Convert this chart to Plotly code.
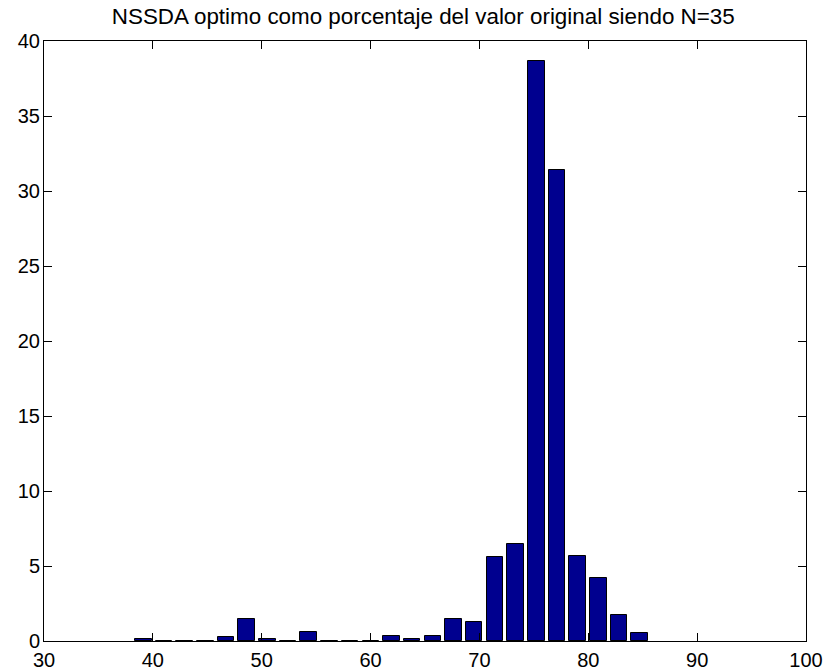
import plotly.graph_objects as go

# Histogram bin centres (percentage of original value) and bar heights
bin_centers = [39.12, 41.02, 42.92, 44.82, 46.72, 48.62, 50.52, 52.42, 54.32,
               56.22, 58.12, 60.02, 61.92, 63.82, 65.72, 67.62, 69.52, 71.42,
               73.32, 75.22, 77.12, 79.02, 80.92, 82.82, 84.72]
frequencies = [0.15, 0.0, 0.0, 0.0, 0.25, 1.5, 0.15, 0.0, 0.6,
               0.0, 0.0, 0.0, 0.35, 0.13, 0.35, 1.5, 1.25, 5.6,
               6.5, 38.7, 31.4, 5.7, 4.2, 1.75, 0.55]

x_ticks = [30, 40, 50, 60, 70, 80, 90, 100]
y_ticks = [0, 5, 10, 15, 20, 25, 30, 35, 40]

title_text = "NSSDA optimo como porcentaje del valor original siendo N=35"

FONT = "Liberation Sans, Arial, sans-serif"

fig = go.Figure()
fig.add_trace(go.Bar(
    x=bin_centers,
    y=frequencies,
    width=1.52,
    marker=dict(color="#00008F", line=dict(color="#000000", width=1)),
    showlegend=False,
))

axis_common = dict(
    showline=True, linecolor="#000000", linewidth=1,
    mirror="ticks", ticks="inside", ticklen=8, tickwidth=1, tickcolor="#000000",
    showgrid=False, zeroline=False,
    tickfont=dict(family=FONT, size=20, color="#000000"),
    automargin=False,
)

fig.update_layout(
    width=830, height=670,
    margin=dict(l=44, r=24, t=41, b=29),
    paper_bgcolor="#ffffff", plot_bgcolor="#ffffff",
    title=dict(text=title_text, x=0.51, xanchor="center", y=1 - 24 / 670,
               yanchor="bottom",
               font=dict(family=FONT, size=22.4, color="#000000")),
    xaxis=dict(range=[30, 100], tickvals=x_ticks, ticktext=[str(v) for v in x_ticks],
               ticklabelstandoff=1, **axis_common),
    yaxis=dict(range=[0, 40], tickvals=y_ticks, ticktext=[str(v) for v in y_ticks],
               ticklabelstandoff=-1, **axis_common),
    bargap=0,
)

fig.write_html("out.html",
               config={"displayModeBar": False},
               post_script="document.body.style.margin='0';document.body.style.padding='0';")
